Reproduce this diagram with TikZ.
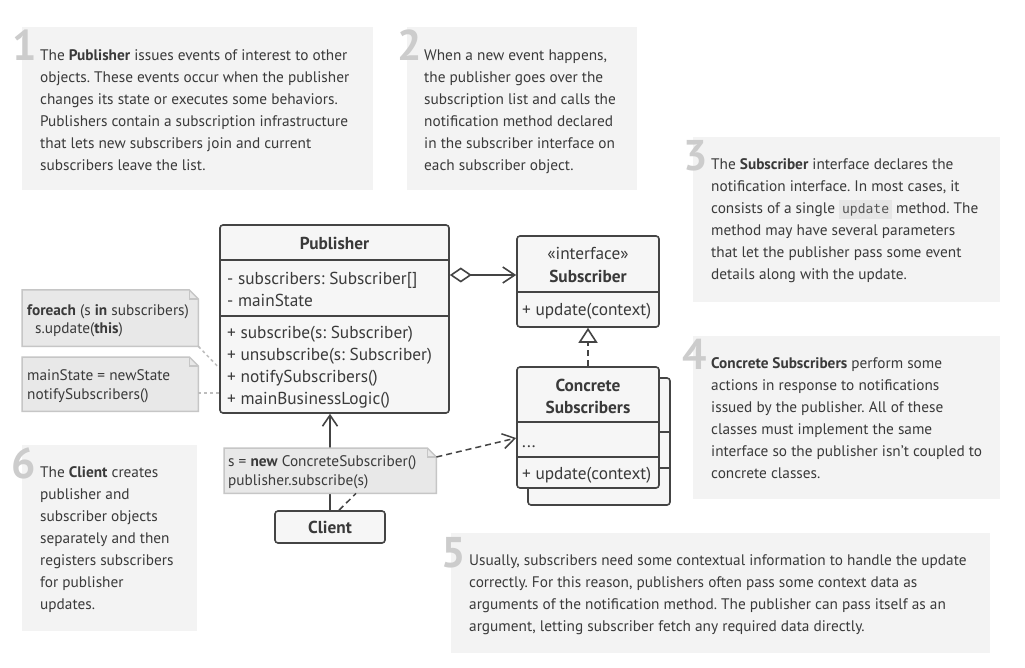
\documentclass[tikz,border=0pt]{standalone}
\usepackage{fontspec}
\setmainfont{PT Sans}
\newfontfamily\monof{DejaVu Sans Mono}
\usetikzlibrary{arrows.meta}
\definecolor{txt}{HTML}{3A3A3A}
\definecolor{descbg}{HTML}{F3F3F3}
\definecolor{numc}{HTML}{CCCCCC}
\definecolor{uml}{HTML}{444444}
\definecolor{umlbg}{HTML}{F6F6F6}
\definecolor{notebg}{HTML}{E8E8E8}
\definecolor{notebd}{HTML}{C6C6C6}
\definecolor{dotc}{HTML}{BDBDBD}
\definecolor{codebg}{HTML}{E6E6E6}
\definecolor{codetx}{HTML}{555555}
\frenchspacing
\newcommand\codeword[1]{{\setlength\fboxsep{3pt}\colorbox{codebg}{\monof\fontsize{13}{13}\selectfont\color{codetx}#1}}}
\tikzset{
  descbox/.style={fill=descbg, draw=none},
  desc/.style={anchor=north west, inner sep=0pt, align=left, text=txt, font=\fontsize{15.3}{22}\selectfont},
  num/.style={anchor=base west, inner sep=0pt, text=numc, font=\fontsize{43}{43}\selectfont\bfseries},
  umlbox/.style={draw=uml, fill=umlbg, line width=1.6pt, rounded corners=3pt, inner sep=0pt},
  umlline/.style={draw=uml, line width=1.6pt},
  umltxt/.style={inner sep=0pt, text=txt, font=\fontsize{17.3}{18}\selectfont},
  umlhead/.style={umltxt, font=\fontsize{17.3}{18}\selectfont\bfseries},
  notenode/.style={draw=none, inner sep=0pt, anchor=north west},
  noteshape/.style={fill=notebg, draw=notebd, line width=1.5pt, line join=miter},
  notetxt/.style={inner sep=0pt, text=txt, font=\fontsize{15.3}{18}\selectfont, anchor=mid west},
  conn/.style={draw=uml, line width=1.6pt},
  barb/.style={-{Straight Barb[length=11pt,width=15pt,line width=1.6pt]}},
  dashedconn/.style={conn, dash pattern=on 6pt off 4pt},
  dotconn/.style={draw=dotc, line width=1.5pt, dash pattern=on 3pt off 3pt},
}
\newcommand\firstline{\rule{0pt}{11pt}}
\begin{document}
\begin{tikzpicture}[x=1pt,y=-1pt]
\useasboundingbox (0,0) rectangle (1025,668);
\fill[white] (0,0) rectangle (1025,668);

% ---- description boxes ----
\fill[descbox] (22,27) rectangle (373,190);
\node[num] (n1) at (12,61) {1};
\node[desc] (d1) at (40,49) {\firstline The \textbf{Publisher} issues events of interest to other\\objects. These events occur when the publisher\\changes its state or executes some behaviors.\\Publishers contain a subscription infrastructure\\that lets new subscribers join and current\\subscribers leave the list.};

\fill[descbox] (407,27) rectangle (637,190);
\node[num] (n2) at (397,61) {2};
\node[desc] (d2) at (424,49) {\firstline When a new event happens,\\the publisher goes over the\\subscription list and calls the\\notification method declared\\in the subscriber interface on\\each subscriber object.};

\fill[descbox] (693,137) rectangle (1000,302);
\node[num] (n3) at (683,171) {3};
\node[desc] (d3) at (711,158) {\firstline The \textbf{Subscriber} interface declares the\\notification interface. In most cases, it\\consists of a single \codeword{update} method. The\\method may have several parameters\\that let the publisher pass some event\\details along with the update.};

\fill[descbox] (693,336) rectangle (1000,499);
\node[num] (n4) at (682,369) {4};
\node[desc] (d4) at (711,357) {\firstline\textbf{Concrete Subscribers} perform some\\actions in response to notifications\\issued by the publisher. All of these\\classes must implement the same\\interface so the publisher isn't coupled to\\concrete classes.};

\fill[descbox] (451,533) rectangle (990,653);
\node[num] (n5) at (441,567) {5};
\node[desc] (d5) at (469,554) {\firstline Usually, subscribers need some contextual information to handle the update\\correctly. For this reason, publishers often pass some context data as\\arguments of the notification method. The publisher can pass itself as an\\argument, letting subscriber fetch any required data directly.};

\fill[descbox] (22,445) rectangle (197,631);
\node[num] (n6) at (11,478) {6};
\node[desc] (d6) at (40,466) {\firstline The \textbf{Client} creates\\publisher and\\subscriber objects\\separately and then\\registers subscribers\\for publisher\\updates.};

% ---- Publisher ----
\node[umlbox, minimum width=229pt, minimum height=188pt] (pub) at (334.5,319) {};
\draw[umlline] (pub.west |- 0,260) -- (pub.east |- 0,260);
\draw[umlline] (pub.west |- 0,316) -- (pub.east |- 0,316);
\node[umlhead, anchor=mid] (pubt) at (334.5,247) {Publisher};
\node[umltxt, anchor=mid west] (pa1) at (227,282) {- subscribers: Subscriber[]};
\node[umltxt, anchor=mid west] (pa2) at (227,304) {- mainState};
\node[umltxt, anchor=mid west] (pm1) at (227,336) {+ subscribe(s: Subscriber)};
\node[umltxt, anchor=mid west] (pm2) at (227,358) {+ unsubscribe(s: Subscriber)};
\node[umltxt, anchor=mid west] (pm3) at (227,380) {+ notifySubscribers()};
\node[umltxt, anchor=mid west] (pm4) at (227,402) {+ mainBusinessLogic()};

% ---- Subscriber interface ----
\node[umlbox, minimum width=142pt, minimum height=91pt] (sub) at (588,281.5) {};
\draw[umlline] (sub.west |- 0,292) -- (sub.east |- 0,292);
\node[umltxt, anchor=mid] (subs) at (588,257) {«interface»};
\node[umlhead, anchor=mid] (subt) at (588,280) {Subscriber};
\node[umltxt, anchor=mid west] (subm) at (522,313) {+ update(context)};

% ---- Concrete subscribers ----
\node[umlbox, minimum width=142pt, minimum height=127pt] (cback) at (599,441.5) {};
\draw[umlline] (cback.west |- 0,432) -- (cback.east |- 0,432);
\draw[umlline] (cback.west |- 0,468) -- (cback.east |- 0,468);
\node[umlbox, minimum width=142pt, minimum height=121pt] (con) at (588,427.5) {};
\draw[umlline] (con.west |- 0,422) -- (con.east |- 0,422);
\draw[umlline] (con.west |- 0,457) -- (con.east |- 0,457);
\node[umlhead, anchor=mid] (cont1) at (588,389) {Concrete};
\node[umlhead, anchor=mid] (cont2) at (588,411) {Subscribers};
\node[umltxt, anchor=base west] (cona) at (522,447) {...};
\node[umltxt, anchor=mid west] (conm) at (522,477) {+ update(context)};

% ---- Client ----
\node[umlbox, minimum width=110pt, minimum height=32pt] (cli) at (330,527) {};
\node[umlhead, anchor=mid] (clit) at (330,531) {Client};

% ---- connectors ----
\draw[conn, {Diamond[open,length=22pt,width=15pt,line width=1.6pt]}-{Straight Barb[length=12pt,width=16pt,line width=1.6pt]}] (pub.east |- 0,275) -- (sub.west |- 0,275);
\draw[dashedconn, -{Triangle[open,length=15pt,width=19pt,line width=1.6pt]}] (con.north) -- (sub.south);
\draw[conn, barb] (cli.north) -- (cli.north |- pub.south);

% ---- notes ----
\node[notenode, minimum width=176pt, minimum height=56pt] (na) at (22,290) {};
\draw[noteshape] (na.north west) -- ([xshift=-9pt]na.north east) -- ([yshift=-9pt]na.north east) -- (na.south east) -- (na.south west) -- cycle;
\draw[noteshape, fill=none] ([xshift=-9pt]na.north east) |- ([yshift=-9pt]na.north east);
\node[notetxt] (na1) at (27,313) {\textbf{foreach} (s \textbf{in} subscribers)};
\node[notetxt] (na2) at (35,331) {s.update(\textbf{this})};

\node[notenode, minimum width=176pt, minimum height=54pt] (nb) at (22,357) {};
\draw[noteshape] (nb.north west) -- ([xshift=-9pt]nb.north east) -- ([yshift=-9pt]nb.north east) -- (nb.south east) -- (nb.south west) -- cycle;
\draw[noteshape, fill=none] ([xshift=-9pt]nb.north east) |- ([yshift=-9pt]nb.north east);
\node[notetxt] (nb1) at (27,378) {mainState = newState};
\node[notetxt] (nb2) at (27,397) {notifySubscribers()};

\node[notenode, minimum width=212pt, minimum height=45pt] (nc) at (224,448) {};
\draw[noteshape] (nc.north west) -- ([xshift=-9pt]nc.north east) -- ([yshift=-9pt]nc.north east) -- (nc.south east) -- (nc.south west) -- cycle;
\draw[noteshape, fill=none] ([xshift=-9pt]nc.north east) |- ([yshift=-9pt]nc.north east);
\node[notetxt] (nc1) at (228,464) {s = \textbf{new} ConcreteSubscriber()};
\node[notetxt] (nc2) at (228,483) {publisher.subscribe(s)};

\draw[dotconn] (na.south east) -- (pub.west |- 0,368);
\draw[dotconn] (nb.east |- 0,393) -- (pub.west |- 0,393);
\draw[dashedconn, line width=1.5pt] (cli.north -| 339,0) -- (nc.south -| 356,0);
\draw[dashedconn, line width=1.5pt, -{Straight Barb[length=12pt,width=15pt,line width=1.5pt]}] ([yshift=-9pt]nc.north east) -- (con.west |- 0,438);
\end{tikzpicture}
\end{document}
